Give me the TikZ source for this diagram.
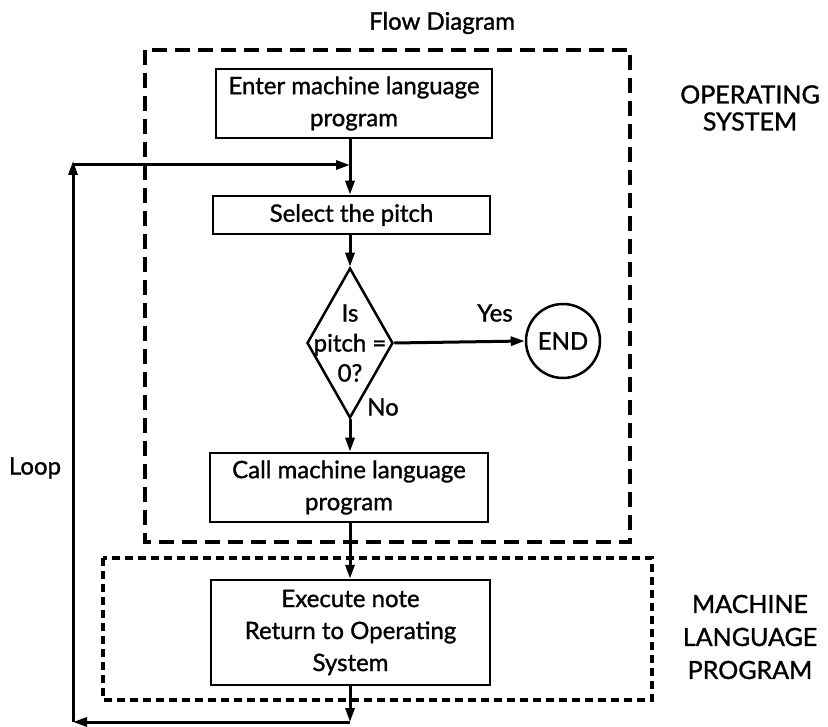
\documentclass[tikz,border=0pt]{standalone}
\usepackage{fontspec}
\setmainfont{Lato}[BoldFont={Lato},BoldFeatures={FakeBold=1.2}]
\usetikzlibrary{arrows.meta,shapes.geometric}
\begin{document}
\begin{tikzpicture}[x=1pt,y=-1pt,
  txt/.style={font=\fontsize{24}{32}\selectfont\bfseries, align=center},
  procbox/.style={txt, draw, line width=2.5pt, inner sep=0pt},
  arr/.style={line width=3pt, -{Triangle[length=14pt,width=9pt]}},
  conn/.style={line width=3pt},
  osbox/.style={line width=3.2pt, dash pattern=on 15pt off 8pt},
  mlbox/.style={line width=3.4pt, dash pattern=on 8pt off 5pt},
  caplabel/.style={font=\fontsize{25}{27}\selectfont\bfseries, align=center}]
\useasboundingbox (0,0) rectangle (828,727);

% title and side labels
\node[txt] (title) at (442,23) {Flow Diagram};
\node[caplabel] (oslabel) at (750,108) {OPERATING\\SYSTEM};
\node[caplabel, font=\fontsize{25}{33}\selectfont\bfseries] (mllabel) at (750,637) {MACHINE\\LANGUAGE\\PROGRAM};
\node[txt] (looplabel) at (35,468) {Loop};

% dashed region boxes
\draw[osbox] (145,50) rectangle (630,542);
\draw[mlbox] (103,558) rectangle (652,700);

% process boxes
\node[procbox, minimum width=276pt, minimum height=69pt] (enter) at (354,103.5) {Enter machine language\\program};
\node[procbox, minimum width=277pt, minimum height=38pt] (select) at (351.5,215) {Select the pitch};
\node[draw, diamond, line width=2.5pt, minimum width=86pt, minimum height=150pt, inner sep=0pt] (dec) at (350,343) {};
\node[txt, font=\fontsize{24}{30}\selectfont\bfseries] (dectext) at (dec.center) {Is\\pitch =\\0?};
\node[txt, draw, circle, line width=2.5pt, minimum size=74pt, inner sep=0pt] (end) at (563,341) {END};
\node[procbox, minimum width=278pt, minimum height=69pt] (call) at (349,487.5) {Call machine language\\program};
\node[procbox, minimum width=279pt, minimum height=105pt] (exec) at (350.5,632.5) {Execute note\\Return to Operating\\System};

\node[txt] (yes) at (495,313) {Yes};
\node[txt] (no) at (383,407) {No};

% axis and loop corners
\coordinate (ax) at (350,0);
\coordinate (tl) at (73,165);
\coordinate (bl) at (73,722);
\coordinate (br) at (350,722);

% connectors
\draw[arr] (enter.south -| ax) -- (select.north -| ax);
\draw[arr] (select.south -| ax) -- (dec.north);
\draw[arr] (dec.east) -- (end.west);
\draw[arr] (dec.south) -- (call.north -| ax);
\draw[arr] (call.south -| ax) -- (exec.north -| ax);
\draw[arr] (exec.south -| ax) -- (br);
\draw[arr] (br) -- (bl);
\draw[arr] (bl) -- ([yshift=4pt]tl);
\draw[conn] (bl) -- (tl);
\draw[arr] (tl) -- (tl -| ax);
\end{tikzpicture}
\end{document}
